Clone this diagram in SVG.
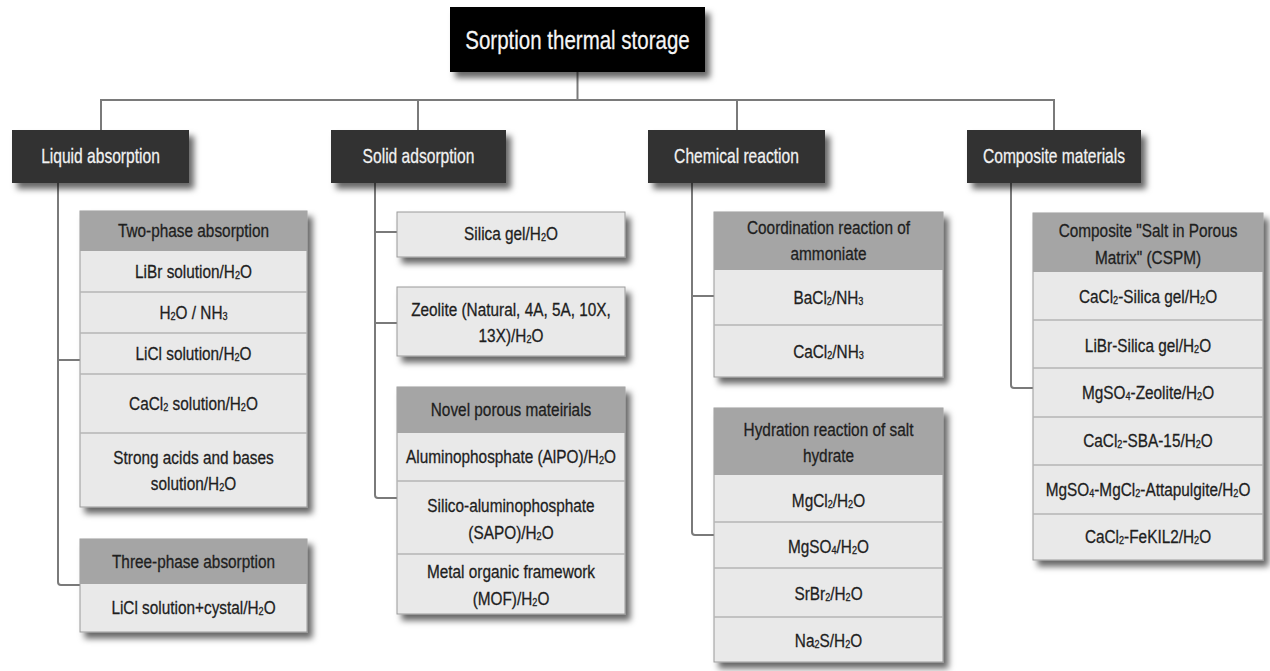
<svg xmlns="http://www.w3.org/2000/svg" width="1270" height="671" viewBox="0 0 1270 671">
<defs>
<filter id="sh" x="-10%" y="-10%" width="130%" height="140%">
<feDropShadow dx="5" dy="6" stdDeviation="3" flood-color="#000" flood-opacity="0.6"/>
</filter>
</defs>
<style>
.conn{fill:none;stroke:#7a7a7a;stroke-width:2}
.root{fill:#000;filter:url(#sh)}
.cat{fill:#333;filter:url(#sh)}
.frame{fill:#e9e9e9;stroke:#9a9a9a;stroke-width:1;filter:url(#sh)}
.hdr{fill:#a5a5a5}
.sep{stroke:#b5b5b5;stroke-width:1.5}
text{font-family:"Liberation Sans",Arial,sans-serif;text-anchor:middle}
.tw{fill:#f2f2f2;font-size:20px;stroke:#f2f2f2;stroke-width:0.25}
.tb{fill:#f5f5f5;font-size:25px;stroke:#f5f5f5;stroke-width:0.25}
.tr{fill:#1e1e1e;font-size:18.5px;stroke:#1e1e1e;stroke-width:0.3}
.s{font-size:11px}
</style>
<rect width="1270" height="671" fill="#fff"/>

<g id="connectors">
<path class="conn" d="M577.5 72 V100"/>
<path class="conn" d="M101 130 V100 H1054 V130"/>
<path class="conn" d="M418 100 V130"/>
<path class="conn" d="M737 100 V130"/>
<path class="conn" d="M58 183 V582 Q58 585 61 585 H80"/>
<path class="conn" d="M58 360 H80"/>
<path class="conn" d="M375 183 V495 Q375 498 378 498 H397"/>
<path class="conn" d="M375 232 H397"/>
<path class="conn" d="M375 323 H397"/>
<path class="conn" d="M692 183 V532 Q692 535 695 535 H714"/>
<path class="conn" d="M692 296 H714"/>
<path class="conn" d="M1011 183 V385 Q1011 388 1014 388 H1033"/>
</g>

<g id="root">
<rect class="root" x="450" y="7" width="255" height="65"/>
<text class="tb" transform="translate(577.5 49) scale(0.82 1)">Sorption thermal storage</text>
</g>

<g id="liquid-absorption">
<rect class="cat" x="12" y="130" width="177" height="53"/>
<text class="tw" transform="translate(100.5 163) scale(0.78 1)">Liquid absorption</text>
</g>
<g id="solid-adsorption">
<rect class="cat" x="331" y="130" width="175" height="53"/>
<text class="tw" transform="translate(418.5 163) scale(0.78 1)">Solid adsorption</text>
</g>
<g id="chemical-reaction">
<rect class="cat" x="648" y="130" width="177" height="53"/>
<text class="tw" transform="translate(736.5 163) scale(0.78 1)">Chemical reaction</text>
</g>
<g id="composite-materials">
<rect class="cat" x="967" y="130" width="174" height="53"/>
<text class="tw" transform="translate(1054 163) scale(0.78 1)">Composite materials</text>
</g>

<g id="two-phase">
<rect class="frame" x="80" y="211" width="227" height="296"/>
<rect class="hdr" x="80" y="211" width="227" height="40"/>
<line class="sep" x1="80" y1="292" x2="307" y2="292"/>
<line class="sep" x1="80" y1="333" x2="307" y2="333"/>
<line class="sep" x1="80" y1="374" x2="307" y2="374"/>
<line class="sep" x1="80" y1="433" x2="307" y2="433"/>
<text class="tr" transform="translate(193.5 237) scale(0.83 1)">Two-phase absorption</text>
<text class="tr" transform="translate(193.5 278) scale(0.83 1)">LiBr solution/H<tspan class="s" dy="1">2</tspan><tspan dy="-1">O</tspan></text>
<text class="tr" transform="translate(193.5 319) scale(0.83 1)">H<tspan class="s" dy="1">2</tspan><tspan dy="-1">O / NH</tspan><tspan class="s" dy="1">3</tspan></text>
<text class="tr" transform="translate(193.5 360) scale(0.83 1)">LiCl solution/H<tspan class="s" dy="1">2</tspan><tspan dy="-1">O</tspan></text>
<text class="tr" transform="translate(193.5 410) scale(0.83 1)">CaCl<tspan class="s" dy="1">2</tspan><tspan dy="-1"> solution/H</tspan><tspan class="s" dy="1">2</tspan><tspan dy="-1">O</tspan></text>
<text class="tr" transform="translate(193.5 464) scale(0.83 1)">Strong acids and bases</text>
<text class="tr" transform="translate(193.5 490) scale(0.83 1)">solution/H<tspan class="s" dy="1">2</tspan><tspan dy="-1">O</tspan></text>
</g>

<g id="three-phase">
<rect class="frame" x="80" y="539" width="227" height="93"/>
<rect class="hdr" x="80" y="539" width="227" height="45"/>
<text class="tr" transform="translate(193.5 568) scale(0.83 1)">Three-phase absorption</text>
<text class="tr" transform="translate(193.5 614) scale(0.83 1)">LiCl solution+cystal/H<tspan class="s" dy="1">2</tspan><tspan dy="-1">O</tspan></text>
</g>

<g id="silica-gel">
<rect class="frame" x="397" y="212" width="228" height="45"/>
<text class="tr" transform="translate(511 240) scale(0.83 1)">Silica gel/H<tspan class="s" dy="1">2</tspan><tspan dy="-1">O</tspan></text>
</g>
<g id="zeolite">
<rect class="frame" x="397" y="287" width="228" height="69"/>
<text class="tr" transform="translate(511 316) scale(0.83 1)">Zeolite (Natural, 4A, 5A, 10X,</text>
<text class="tr" transform="translate(511 342) scale(0.83 1)">13X)/H<tspan class="s" dy="1">2</tspan><tspan dy="-1">O</tspan></text>
</g>
<g id="novel-porous">
<rect class="frame" x="397" y="387" width="228" height="227"/>
<rect class="hdr" x="397" y="387" width="228" height="46"/>
<line class="sep" x1="397" y1="481" x2="625" y2="481"/>
<line class="sep" x1="397" y1="554" x2="625" y2="554"/>
<text class="tr" transform="translate(511 416) scale(0.83 1)">Novel porous mateirials</text>
<text class="tr" transform="translate(511 463) scale(0.83 1)">Aluminophosphate (AlPO)/H<tspan class="s" dy="1">2</tspan><tspan dy="-1">O</tspan></text>
<text class="tr" transform="translate(511 512) scale(0.83 1)">Silico-aluminophosphate</text>
<text class="tr" transform="translate(511 539) scale(0.83 1)">(SAPO)/H<tspan class="s" dy="1">2</tspan><tspan dy="-1">O</tspan></text>
<text class="tr" transform="translate(511 578) scale(0.83 1)">Metal organic framework</text>
<text class="tr" transform="translate(511 605) scale(0.83 1)">(MOF)/H<tspan class="s" dy="1">2</tspan><tspan dy="-1">O</tspan></text>
</g>

<g id="coordination">
<rect class="frame" x="714" y="212" width="229" height="165"/>
<rect class="hdr" x="714" y="212" width="229" height="58"/>
<line class="sep" x1="714" y1="325" x2="943" y2="325"/>
<text class="tr" transform="translate(828.5 234) scale(0.83 1)">Coordination reaction of</text>
<text class="tr" transform="translate(828.5 260) scale(0.83 1)">ammoniate</text>
<text class="tr" transform="translate(828.5 304) scale(0.83 1)">BaCl<tspan class="s" dy="1">2</tspan><tspan dy="-1">/NH</tspan><tspan class="s" dy="1">3</tspan></text>
<text class="tr" transform="translate(828.5 358) scale(0.83 1)">CaCl<tspan class="s" dy="1">2</tspan><tspan dy="-1">/NH</tspan><tspan class="s" dy="1">3</tspan></text>
</g>

<g id="hydration">
<rect class="frame" x="714" y="408" width="229" height="254"/>
<rect class="hdr" x="714" y="408" width="229" height="67"/>
<line class="sep" x1="714" y1="522" x2="943" y2="522"/>
<line class="sep" x1="714" y1="568" x2="943" y2="568"/>
<line class="sep" x1="714" y1="617" x2="943" y2="617"/>
<text class="tr" transform="translate(828.5 436) scale(0.83 1)">Hydration reaction of salt</text>
<text class="tr" transform="translate(828.5 462) scale(0.83 1)">hydrate</text>
<text class="tr" transform="translate(828.5 507) scale(0.83 1)">MgCl<tspan class="s" dy="1">2</tspan><tspan dy="-1">/H</tspan><tspan class="s" dy="1">2</tspan><tspan dy="-1">O</tspan></text>
<text class="tr" transform="translate(828.5 553) scale(0.83 1)">MgSO<tspan class="s" dy="1">4</tspan><tspan dy="-1">/H</tspan><tspan class="s" dy="1">2</tspan><tspan dy="-1">O</tspan></text>
<text class="tr" transform="translate(828.5 600) scale(0.83 1)">SrBr<tspan class="s" dy="1">2</tspan><tspan dy="-1">/H</tspan><tspan class="s" dy="1">2</tspan><tspan dy="-1">O</tspan></text>
<text class="tr" transform="translate(828.5 647) scale(0.83 1)">Na<tspan class="s" dy="1">2</tspan><tspan dy="-1">S/H</tspan><tspan class="s" dy="1">2</tspan><tspan dy="-1">O</tspan></text>
</g>

<g id="cspm">
<rect class="frame" x="1033" y="213" width="230" height="347"/>
<rect class="hdr" x="1033" y="213" width="230" height="59"/>
<line class="sep" x1="1033" y1="320" x2="1263" y2="320"/>
<line class="sep" x1="1033" y1="368" x2="1263" y2="368"/>
<line class="sep" x1="1033" y1="417" x2="1263" y2="417"/>
<line class="sep" x1="1033" y1="465" x2="1263" y2="465"/>
<line class="sep" x1="1033" y1="514" x2="1263" y2="514"/>
<text class="tr" transform="translate(1148 237) scale(0.83 1)">Composite "Salt in Porous</text>
<text class="tr" transform="translate(1148 264) scale(0.83 1)">Matrix" (CSPM)</text>
<text class="tr" transform="translate(1148 303) scale(0.83 1)">CaCl<tspan class="s" dy="1">2</tspan><tspan dy="-1">-Silica gel/H</tspan><tspan class="s" dy="1">2</tspan><tspan dy="-1">O</tspan></text>
<text class="tr" transform="translate(1148 352) scale(0.83 1)">LiBr-Silica gel/H<tspan class="s" dy="1">2</tspan><tspan dy="-1">O</tspan></text>
<text class="tr" transform="translate(1148 399) scale(0.83 1)">MgSO<tspan class="s" dy="1">4</tspan><tspan dy="-1">-Zeolite/H</tspan><tspan class="s" dy="1">2</tspan><tspan dy="-1">O</tspan></text>
<text class="tr" transform="translate(1148 447) scale(0.83 1)">CaCl<tspan class="s" dy="1">2</tspan><tspan dy="-1">-SBA-15/H</tspan><tspan class="s" dy="1">2</tspan><tspan dy="-1">O</tspan></text>
<text class="tr" transform="translate(1148 496) scale(0.83 1)">MgSO<tspan class="s" dy="1">4</tspan><tspan dy="-1">-MgCl</tspan><tspan class="s" dy="1">2</tspan><tspan dy="-1">-Attapulgite/H</tspan><tspan class="s" dy="1">2</tspan><tspan dy="-1">O</tspan></text>
<text class="tr" transform="translate(1148 543) scale(0.83 1)">CaCl<tspan class="s" dy="1">2</tspan><tspan dy="-1">-FeKIL2/H</tspan><tspan class="s" dy="1">2</tspan><tspan dy="-1">O</tspan></text>
</g>
</svg>
